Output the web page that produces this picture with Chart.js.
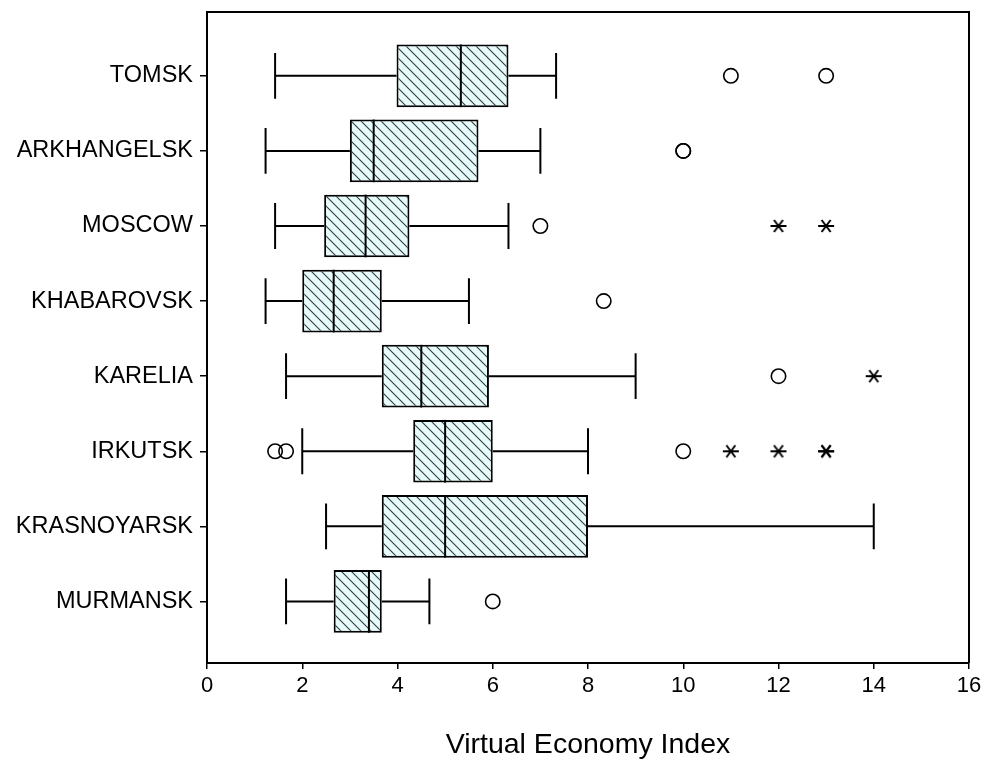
<!DOCTYPE html>
<html>
<head>
<meta charset="utf-8">
<script src="https://cdn.jsdelivr.net/npm/chart.js@4/dist/chart.umd.min.js"></script>
<style>
  html, body { margin: 0; padding: 0; background: #fff; }
  #wrap { width: 983px; height: 764px; }
</style>
</head>
<body>
<div id="wrap"><canvas id="c" width="983" height="764"></canvas></div>
<script>
// Regions, top to bottom
const categories = ['TOMSK', 'ARKHANGELSK', 'MOSCOW', 'KHABAROVSK', 'KARELIA', 'IRKUTSK', 'KRASNOYARSK', 'MURMANSK'];

// Five-number summaries of the Virtual Economy Index per region
const whiskerLow  = [1.43, 1.23, 1.43, 1.23, 1.66, 2.0, 2.5, 1.66];
const quartile1   = [3.98, 3.0, 2.46, 2.0, 3.67, 4.33, 3.67, 2.66];
const medians     = [5.33, 3.5, 3.33, 2.66, 4.5, 5.0, 5.0, 3.4];
const quartile3   = [6.33, 5.7, 4.25, 3.67, 5.92, 6.0, 8.0, 3.67];
const whiskerHigh = [7.33, 7.0, 6.33, 5.5, 9.0, 8.0, 14.0, 4.67];

// Outliers: [region index, value]
const outliers = [[0, 11], [0, 13], [1, 10], [1, 10], [2, 7], [3, 8.33], [4, 12], [5, 1.43], [5, 1.66], [5, 10], [7, 6]];
// Extreme values: [region index, value]
const extremes = [[2, 12], [2, 13], [4, 14], [5, 11], [5, 12], [5, 13], [5, 13]];

const xTicks = [0, 2, 4, 6, 8, 10, 12, 14, 16];

const FONT = '"Liberation Sans", Arial, Helvetica, sans-serif';
const CAP_HALF = 0.305;

// Diagonal hatch fill for the boxes
function makeHatch() {
  const t = document.createElement('canvas');
  t.width = 10; t.height = 10;
  const g = t.getContext('2d');
  g.fillStyle = '#e6fcfc';
  g.fillRect(0, 0, 10, 10);
  g.strokeStyle = '#3a3a3a';
  g.lineWidth = 1.1;
  g.beginPath();
  g.moveTo(-1, -1); g.lineTo(11, 11);
  g.moveTo(-1, 9); g.lineTo(1, 11);
  g.moveTo(9, -1); g.lineTo(11, 1);
  g.stroke();
  return g.createPattern(t, 'repeat');
}

// Asterisk marker for extreme values
function makeAsterisk() {
  const s = document.createElement('canvas');
  s.width = 18; s.height = 16;
  const g = s.getContext('2d');
  g.strokeStyle = '#000';
  g.lineWidth = 2;
  g.beginPath();
  g.moveTo(1, 8); g.lineTo(17, 8);
  g.moveTo(4.5, 2); g.lineTo(13.5, 14);
  g.moveTo(4.5, 14); g.lineTo(13.5, 2);
  g.stroke();
  return s;
}

const boxData = categories.map((c, i) => ({ y: i, x: [quartile1[i], quartile3[i]] }));
const outlierData = outliers.map(([i, v]) => ({ x: v, y: i }));
const extremeData = extremes.map(([i, v]) => ({ x: v, y: i }));

const boxPlotLines = {
  id: 'boxPlotLines',
  beforeDatasetsDraw(chart) {
    const { ctx, scales: { x, y } } = chart;
    ctx.save();
    ctx.strokeStyle = '#000';
    ctx.lineWidth = 2;
    categories.forEach((c, i) => {
      const yc = y.getPixelForValue(i);
      const yt = y.getPixelForValue(i - CAP_HALF);
      const yb = y.getPixelForValue(i + CAP_HALF);
      const xl = x.getPixelForValue(whiskerLow[i]);
      const xh = x.getPixelForValue(whiskerHigh[i]);
      const x1 = x.getPixelForValue(quartile1[i]);
      const x3 = x.getPixelForValue(quartile3[i]);
      ctx.beginPath();
      ctx.moveTo(xl, yc); ctx.lineTo(x1, yc);
      ctx.moveTo(x3, yc); ctx.lineTo(xh, yc);
      ctx.moveTo(xl, yt); ctx.lineTo(xl, yb);
      ctx.moveTo(xh, yt); ctx.lineTo(xh, yb);
      ctx.stroke();
    });
    ctx.restore();
  },
  afterDatasetsDraw(chart) {
    const { ctx, chartArea, scales: { x } } = chart;
    const meta = chart.getDatasetMeta(0);
    ctx.save();
    ctx.strokeStyle = '#000';
    ctx.lineWidth = 2;
    meta.data.forEach((bar, i) => {
      const xm = x.getPixelForValue(medians[i]);
      const h = bar.height / 2;
      ctx.beginPath();
      ctx.moveTo(xm, bar.y - h);
      ctx.lineTo(xm, bar.y + h);
      ctx.stroke();
    });
    // top and right sides of the frame
    ctx.beginPath();
    ctx.moveTo(chartArea.left, chartArea.top);
    ctx.lineTo(chartArea.right, chartArea.top);
    ctx.lineTo(chartArea.right, chartArea.bottom);
    ctx.stroke();
    ctx.restore();
  }
};

Chart.defaults.color = '#000';
Chart.defaults.font.family = FONT;

new Chart(document.getElementById('c'), {
  type: 'bar',
  data: {
    datasets: [
      {
        type: 'bar',
        data: boxData,
        backgroundColor: makeHatch(),
        borderColor: '#000',
        borderWidth: 2,
        borderSkipped: false,
        barPercentage: 0.835,
        categoryPercentage: 1
      },
      {
        type: 'scatter',
        indexAxis: 'y',
        data: outlierData,
        pointStyle: 'circle',
        pointRadius: 7.2,
        pointBorderWidth: 1.6,
        pointBorderColor: '#000',
        pointBackgroundColor: 'rgba(255,255,255,0)'
      },
      {
        type: 'scatter',
        indexAxis: 'y',
        data: extremeData,
        pointStyle: makeAsterisk(),
        pointRadius: 8
      }
    ]
  },
  options: {
    indexAxis: 'y',
    responsive: false,
    animation: false,
    events: [],
    layout: { padding: { top: 12, right: 14, left: 0, bottom: 0 } },
    plugins: { legend: { display: false }, tooltip: { enabled: false } },
    scales: {
      x: {
        type: 'linear',
        position: 'bottom',
        offset: false,
        beginAtZero: false,
        min: 0,
        max: 16,
        afterBuildTicks(scale) { scale.ticks = xTicks.map(v => ({ value: v })); },
        afterFit(scale) { scale.height = 101; scale.paddingLeft = 0; scale.paddingRight = 0; },
        grid: { display: true, offset: false, drawOnChartArea: false, drawTicks: true, tickLength: 6, color: '#000', lineWidth: 1.5 },
        border: { display: true, color: '#000', width: 2 },
        ticks: { font: { size: 22, family: FONT }, color: '#000', padding: 4, maxRotation: 0 },
        title: { display: true, text: 'Virtual Economy Index', font: { size: 28.5, family: FONT }, color: '#000', padding: { top: 0, bottom: 2 } }
      },
      y: {
        type: 'linear',
        position: 'left',
        offset: false,
        beginAtZero: false,
        reverse: true,
        min: -0.85,
        max: 7.82,
        afterBuildTicks(scale) { scale.ticks = categories.map((c, i) => ({ value: i })); },
        afterFit(scale) { scale.width = 207; scale.paddingTop = 0; scale.paddingBottom = 0; },
        grid: { display: true, offset: false, drawOnChartArea: false, drawTicks: true, tickLength: 7, color: '#000', lineWidth: 1.5 },
        border: { display: true, color: '#000', width: 2 },
        ticks: {
          font: { size: 23.5, family: FONT },
          color: '#000',
          padding: 7,
          callback: (v) => categories[v]
        }
      }
    }
  },
  plugins: [boxPlotLines]
});
</script>
</body>
</html>
